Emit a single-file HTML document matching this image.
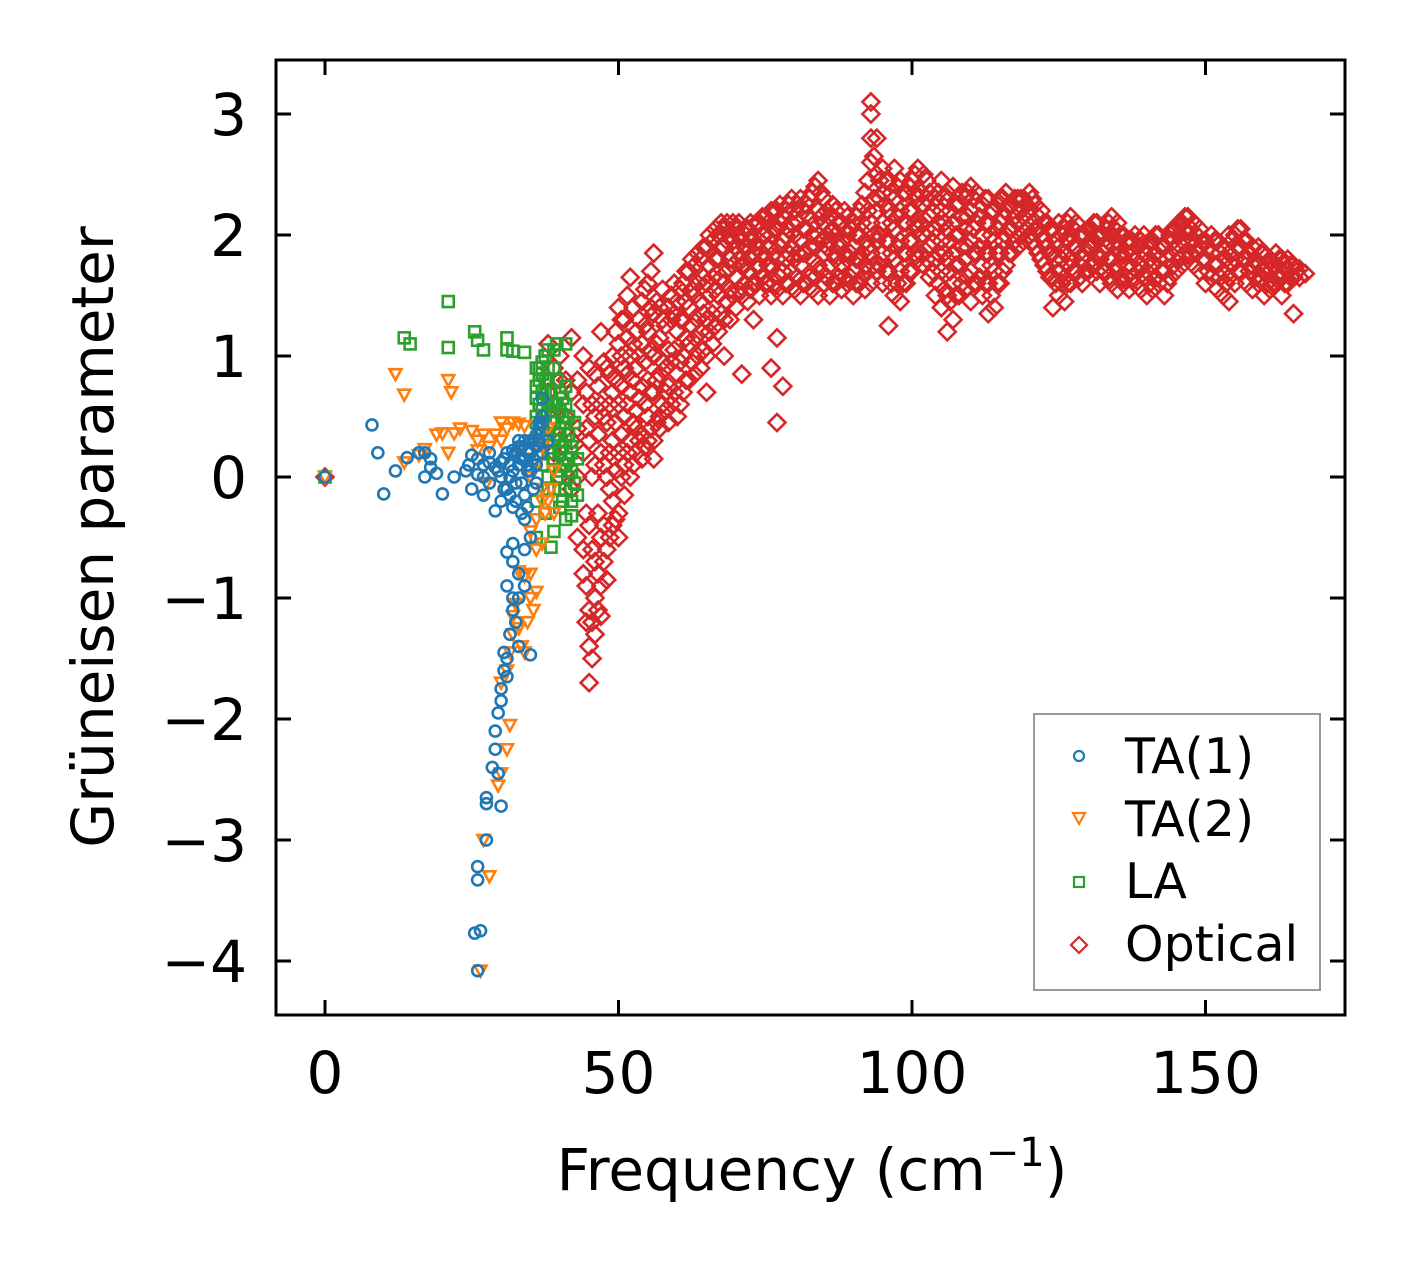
<!DOCTYPE html>
<html><head><meta charset="utf-8"><style>
html,body{margin:0;padding:0;background:#fff;}
svg{display:block;font-family:"DejaVu Sans","Liberation Sans",sans-serif;}
</style></head><body>
<svg id="chart" width="1406" height="1264" viewBox="0 0 1406 1264" xmlns="http://www.w3.org/2000/svg">
<rect x="0" y="0" width="1406" height="1264" fill="#fff"/>
<g id="marks"></g>
<g id="axes"></g>
<text x="812" y="1190" font-size="58" text-anchor="middle">Frequency (cm<tspan font-size="40" dy="-24">−1</tspan><tspan dy="24">)</tspan></text>
<text transform="translate(113,537) rotate(-90)" font-size="58" text-anchor="middle">Grüneisen parameter</text>
<g>
<rect x="1034" y="714" width="286" height="276" fill="#fff" stroke="#999" stroke-width="2"/>
<circle cx="1079" cy="756" r="5" fill="none" stroke="#1f77b4" stroke-width="2.2"/>
<path d="M1073,813 L1085,813 L1079,824 Z" fill="none" stroke="#ff7f0e" stroke-width="2.2"/>
<rect x="1074" y="877" width="10" height="10" fill="none" stroke="#2ca02c" stroke-width="2.2"/>
<path d="M1079,937 L1087,945 L1079,953 L1071,945 Z" fill="none" stroke="#d62728" stroke-width="2.2"/>
<text x="1125" y="773" font-size="49">TA(1)</text>
<text x="1125" y="836" font-size="49">TA(2)</text>
<text x="1125" y="898" font-size="49">LA</text>
<text x="1125" y="961" font-size="49">Optical</text>
</g>
</svg>
<script>
const xTicks = [0, 50, 100, 150];
const yTicks = [-4, -3, -2, -1, 0, 1, 2, 3];
const ta1Freq = [0,8,9,10,12,14,16,17,17,18,18,19,20,22,24,24.5,25,25,26,26,27,27,28,28,29,29,30,30,31,31,31,32,32,32,33,33,33,33,34,34,34,35,35,35,35,36,36,36,37,37,37,38,33,32,31,32,31.5,31,30.5,30,30,29.5,29,29,28.5,29.5,30,27.5,27.5,27.5,26,26,25.5,26.5,26,32.5,33,34,34,30.5,31,32,27,28,30,32,34,35,36,37,29.5,30.5,31.5,32.5,33.5,34.5,35.5,36.5,33.5,34.5,35.5,36.5,31.5,32.5,33.5,34.5,35.5,36.5,30.5,31.5,32.5,33.5,34.5];
const ta1Gamma = [0,0.43,0.2,-0.14,0.05,0.16,0.2,0.2,0,0.15,0.08,0.03,-0.14,0,0.05,0.1,0.18,-0.1,0.15,0.02,-0.15,0.1,0.12,-0.05,-0.28,0.08,0.12,-0.2,0.2,-0.1,-0.62,0.22,-0.55,-0.7,0.25,0.1,-0.8,-1.0,0.3,0.15,-0.35,0.3,0.2,-0.5,-1.47,0.35,0.25,-0.05,0.45,0.5,0.65,0.3,0.3,0.05,-0.9,-1.1,-1.3,-1.5,-1.6,-1.75,-1.85,-1.95,-2.1,-2.25,-2.4,-2.45,-2.72,-2.65,-2.7,-3.0,-3.22,-3.33,-3.77,-3.75,-4.08,-1.2,-1.4,-0.9,-0.6,-1.45,-1.65,-1.0,0.0,0.2,0.0,-0.25,-0.15,0.05,0.1,0.2,0.05,0.15,0.1,0.2,0.25,0.2,0.15,0.3,-0.05,0.05,-0.1,0.4,-0.15,-0.05,0.15,0.1,0.3,0.45,-0.1,0.0,-0.2,-0.3,-0.25];
const ta2Freq = [0,12,13.5,13.5,16,17,19,20,21,21.5,22,23,25,26,27,28,29,30,30,31,32,33,34,21,26,27,28,29.5,30,31,31.5,31,31.5,32,32.5,33,33.5,34,34.5,35,35.5,36,35,34,33,36,37,37.5,38,38.5,36,37,35,35,36,37,38,39,30,32,26.5,27.5,39,33,34,35,36,37];
const ta2Gamma = [0,0.85,0.68,0.12,0.18,0.23,0.35,0.36,0.8,0.7,0.36,0.4,0.38,0.3,0.35,0.25,0.35,0.3,0.45,0.4,0.45,0.44,0.42,0.2,0.22,-3.0,-3.3,-2.55,-2.45,-2.25,-2.05,-1.6,-1.45,-1.3,-1.05,-1.25,-1.4,-1.45,-1.2,-1.0,-1.1,-0.95,-0.8,-0.82,-0.78,-0.6,-0.55,-0.3,-0.2,-0.1,-0.35,-0.2,-0.45,0.0,0.1,0.25,0.4,0.05,-1.7,-1.15,-4.08,-0.05,-0.3,0.2,0.25,0.15,0.3,-0.1];
const laFreq = [0,13.5,14.5,21,21,25.5,26,27,31,31,32,34,39,39.5,41,37.5,36,36,36.5,37,37,38,38,38.5,39,39,39.5,40,40,40.5,40.5,41,41,41.5,42,42,42.5,43,43,41,42,39,38.5,36,37.5,38,38,39.5,40,37,36.5,40,41.5,39,38,36,37,40,41,36.5,37.5,38.5,39.5,40.5,41.5,42.5,36,37,38,39,40,41,42,37.5,38.5,39.5,40.5,36,37,38,39,40,41,42,36.5,37.5,38.5,39.5,40.5,41.5,36,37,38,39,40,41];
const laGamma = [0,1.15,1.1,1.45,1.07,1.2,1.13,1.05,1.15,1.05,1.04,1.03,1.05,1.1,1.1,1.0,0.9,0.75,0.6,0.85,0.95,0.8,0.6,0.45,0.3,0.15,0.0,0.2,0.4,0.5,0.1,0.3,-0.1,0.15,0.05,-0.2,0.45,0.15,-0.15,-0.35,-0.32,-0.45,-0.58,-0.5,-0.3,0.2,-0.1,0.6,0.7,0.3,0.4,-0.25,0.5,0.9,1.05,-0.2,0.7,0.05,0.75,0.8,0.7,0.55,0.35,0.25,0.0,-0.05,0.45,0.1,0.0,-0.1,-0.1,0.6,0.2,0.5,0.2,0.0,-0.2,0.65,0.55,0.35,0.45,0.3,0.1,0.25,0.9,0.8,0.7,0.8,0.65,0.35,0.5,0.4,0.9,0.6,0.55,0.45];
const opticalRows = [
[0,[0]],[38,[0.4,0.7,1.1]],[39,[0.2,0.6,0.9]],[40,[0.0,0.3,0.8,1.0]],[41,[0.1,0.5,0.8]],[42,[-0.1,0.3,0.7,1.15]],[43,[0.0,0.4,0.8,-0.5]],
[44,[-0.6,-0.8,0.2,0.6,1.0]],[45,[-1.1,-1.4,-1.7,-0.4,0.3,0.9]],[46,[-1.3,-1.0,-0.7,0.1,0.5,0.85]],[47,[-1.15,-0.9,-0.5,0.2,0.6,1.2]],
[48,[-0.6,-0.85,0.0,0.45,0.9]],[49,[-0.4,-0.2,0.3,0.7,1.0]],[50,[-0.5,-0.3,0.2,0.6,1.1,1.4]],[51,[0.1,0.5,0.9,1.3,-0.15]],
[52,[0.3,0.7,1.0,1.65,0.0]],[53,[0.2,0.55,0.9,1.2,0.4]],[54,[0.35,0.75,1.1,1.45,0.15]],[55,[0.5,0.8,1.2,1.6,0.3]],
[56,[0.3,0.7,1.0,1.35,1.85,0.15]],[57,[0.5,0.85,1.15,1.4,0.4]],[58,[0.55,0.9,1.25,0.7]],[59,[0.6,0.95,1.3,1.5]],
[60,[0.5,0.85,1.2,1.45]],[61,[0.7,1.0,1.3,1.6]],[62,[0.8,1.1,1.4,1.7]],[63,[0.85,1.15,1.5,1.75]],[64,[0.9,1.2,1.45,1.8]],
[65,[0.7,1.0,1.3,1.6,1.9]],[66,[1.1,1.35,1.65,1.95]],[67,[1.2,1.5,1.8,2.0]],[68,[1.0,1.3,1.6,1.9,2.05]],[69,[1.3,1.55,1.8,2.0]],
[70,[1.4,1.65,1.9,2.05]],[71,[0.85,1.5,1.75,1.95]],[72,[1.45,1.7,1.9,2.05]],[73,[1.3,1.6,1.85,2.0]],[74,[1.5,1.75,1.95,2.1]],
[75,[1.6,1.8,2.0,2.15]],[76,[1.5,1.75,2.0,2.2,0.9]],[77,[1.15,1.55,1.8,2.05,2.2,0.45]],[78,[1.5,1.7,1.95,2.15,0.75]],
[79,[1.6,1.85,2.05,2.25]],[80,[1.55,1.8,2.0,2.2]],[81,[1.5,1.75,1.95,2.3]],[82,[1.6,1.85,2.05,2.25]],[83,[1.55,1.8,2.0,2.35]],
[84,[1.5,1.75,2.0,2.2,2.45]],[85,[1.6,1.85,2.1,2.3]],[86,[1.5,1.75,1.95,2.15]],[87,[1.6,1.8,2.0,2.2]],[88,[1.55,1.75,1.95,2.1]],
[89,[1.6,1.8,2.0,2.15]],[90,[1.5,1.7,1.9,2.1]],[91,[1.6,1.8,2.0,2.2]],[92,[1.55,1.75,1.95,2.35]],[93,[1.6,1.85,2.1,2.6,2.8,3.1,3.0]],
[94,[1.7,1.95,2.2,2.5,2.8]],[95,[1.6,1.85,2.1,2.35,2.55]],[96,[1.25,1.7,1.95,2.2,2.45]],[97,[1.5,1.8,2.05,2.3,2.55]],
[98,[1.45,1.7,1.95,2.2,2.45]],[99,[1.6,1.85,2.1,2.35]],[100,[1.7,1.95,2.2,2.45]],[101,[1.8,2.05,2.3,2.55]],[102,[1.75,2.0,2.25,2.5]],
[103,[1.65,1.9,2.15,2.35]],[104,[1.5,1.8,2.05,2.3]],[105,[1.4,1.7,1.95,2.2,2.45]],[106,[1.2,1.5,1.8,2.05,2.35]],
[107,[1.3,1.6,1.85,2.1,2.4]],[108,[1.5,1.75,2.0,2.25]],[109,[1.55,1.8,2.05,2.3]],[110,[1.45,1.7,1.95,2.2,2.4]],
[111,[1.6,1.85,2.1,2.35]],[112,[1.5,1.75,2.0,2.25]],[113,[1.35,1.6,1.85,2.1,2.3]],[114,[1.4,1.7,1.95,2.2]],[115,[1.6,1.85,2.1,2.3]],
[116,[1.75,2.0,2.2,2.35]],[117,[1.85,2.05,2.25]],[118,[1.9,2.1,2.3]],[119,[1.95,2.15,2.3]],[120,[2.0,2.2,2.35]],[121,[1.9,2.05,2.25]],
[122,[1.8,2.0,2.2]],[123,[1.7,1.9,2.1]],[124,[1.4,1.65,1.85,2.05]],[125,[1.5,1.7,1.9,2.1]],[126,[1.45,1.65,1.85,2.05]],
[127,[1.6,1.8,2.0,2.15]],[128,[1.7,1.9,2.1]],[129,[1.6,1.8,2.0]],[130,[1.7,1.9,2.05]],[131,[1.75,1.95,2.1]],[132,[1.6,1.8,2.0]],
[133,[1.7,1.9,2.05]],[134,[1.6,1.8,2.0,2.15]],[135,[1.55,1.75,1.95,2.1]],[136,[1.6,1.8,2.0]],[137,[1.55,1.75,1.95]],[138,[1.6,1.8,2.0]],
[139,[1.55,1.75,1.95]],[140,[1.5,1.7,1.9]],[141,[1.55,1.75,1.95]],[142,[1.6,1.8,2.0]],[143,[1.5,1.7,1.9]],[144,[1.65,1.85,2.0]],
[145,[1.7,1.9,2.05]],[146,[1.75,1.95,2.1]],[147,[1.8,2.0,2.15]],[148,[1.75,1.95,2.1]],[149,[1.7,1.9,2.05]],[150,[1.6,1.8,1.95]],
[151,[1.65,1.85,2.0]],[152,[1.55,1.75,1.95]],[153,[1.5,1.7,1.9]],[154,[1.45,1.65,1.85,2.0]],[155,[1.6,1.8,2.0]],[156,[1.7,1.9,2.05]],
[157,[1.6,1.8,1.95]],[158,[1.55,1.75,1.9]],[159,[1.6,1.75,1.9]],[160,[1.5,1.7,1.85]],[161,[1.55,1.7,1.8]],[162,[1.6,1.75,1.85]],
[163,[1.5,1.65,1.8]],[164,[1.6,1.7,1.8]],[165,[1.35,1.65,1.75]],[166,[1.65,1.72]],[167,[1.68]]
];
const opticalDenseRows = [
[44.5,[-1.2,-0.9,-0.3,0.4,0.7]],[45.5,[-1.5,-1.2,-0.6,0.0,0.6]],[46.5,[-1.1,-0.8,-0.3,0.35,0.75]],[47.5,[-0.7,-0.4,0.1,0.5,0.95]],
[48.5,[-0.5,-0.1,0.2,0.6,0.85]],[49.5,[-0.35,0.05,0.45,0.8,1.2]],[50.5,[0.0,0.35,0.75,1.0,1.3]],[51.5,[0.2,0.6,0.85,1.15,1.5]],
[52.5,[0.1,0.45,0.8,1.1,1.4]],[53.5,[0.3,0.65,1.0,1.3]],[54.5,[0.25,0.6,0.95,1.25,1.55]],[55.5,[0.4,0.7,1.05,1.4,1.7]],
[56.5,[0.45,0.8,1.1,1.45]],[57.5,[0.6,0.95,1.3,1.55]],[58.5,[0.45,0.75,1.05,1.4]],[59.5,[0.7,1.05,1.35,1.6]],
[60.5,[0.6,0.95,1.3,1.55]],[61.5,[0.8,1.15,1.45,1.7]],[62.5,[0.95,1.25,1.55,1.8]],[63.5,[1.0,1.3,1.6,1.85]],
[64.5,[1.05,1.35,1.65,1.9]],[65.5,[1.2,1.5,1.75,2.0]],[66.5,[1.25,1.55,1.8,2.05]],[67.5,[1.35,1.65,1.9,2.1]],
[68.5,[1.45,1.7,1.95,2.1]],[69.5,[1.5,1.75,1.95,2.1]],[70.5,[1.55,1.8,2.0,2.1]],[71.5,[1.6,1.75,1.9,2.05]],
[72.5,[1.55,1.8,1.95,2.1]],[73.5,[1.6,1.75,1.9,2.1]],[74.5,[1.65,1.85,2.0,2.15]],[75.5,[1.6,1.75,1.9,2.1]],
[76.5,[1.6,1.85,2.05,2.2]],[77.5,[1.65,1.9,2.1,2.25]],[78.5,[1.6,1.8,2.0,2.2]],[79.5,[1.7,1.9,2.1,2.3]],
[80.5,[1.65,1.85,2.1,2.25]],[81.5,[1.6,1.85,2.05,2.2]],[82.5,[1.65,1.9,2.15,2.3]],[83.5,[1.65,1.9,2.1,2.4]],
[84.5,[1.7,1.95,2.15,2.35]],[85.5,[1.65,1.9,2.0,2.2]],[86.5,[1.6,1.85,2.05,2.25]],[87.5,[1.65,1.9,2.1]],
[88.5,[1.65,1.85,2.05,2.2]],[89.5,[1.65,1.85,2.05]],[90.5,[1.6,1.8,2.0,2.15]],[91.5,[1.65,1.85,2.1,2.25]],
[92.5,[1.7,1.9,2.2,2.45]],[93.5,[1.75,2.0,2.3,2.65]],[94.5,[1.75,2.0,2.3,2.45]],[95.5,[1.7,1.95,2.25,2.45]],
[96.5,[1.6,1.85,2.1,2.35]],[97.5,[1.6,1.9,2.15,2.4]],[98.5,[1.6,1.85,2.1,2.35]],[99.5,[1.7,1.95,2.2,2.4]],
[100.5,[1.85,2.1,2.35,2.5]],[101.5,[1.85,2.1,2.35]],[102.5,[1.8,2.05,2.3,2.45]],[103.5,[1.7,1.95,2.2]],
[104.5,[1.6,1.85,2.1,2.35]],[105.5,[1.55,1.85,2.1,2.3]],[106.5,[1.45,1.7,1.95,2.2]],[107.5,[1.5,1.75,2.0,2.25]],
[108.5,[1.6,1.9,2.15,2.35]],[109.5,[1.65,1.9,2.15,2.35]],[110.5,[1.6,1.85,2.05,2.3]],[111.5,[1.65,1.9,2.15]],
[112.5,[1.6,1.85,2.1,2.3]],[113.5,[1.5,1.75,2.0,2.2]],[114.5,[1.6,1.85,2.05,2.25]],[115.5,[1.7,1.95,2.15,2.3]],
[116.5,[1.85,2.05,2.25]],[117.5,[1.95,2.15,2.3]],[118.5,[2.0,2.2,2.3]],[119.5,[2.05,2.25]],[120.5,[1.95,2.1,2.3]],
[121.5,[1.85,2.05,2.15]],[122.5,[1.75,1.95,2.1]],[123.5,[1.65,1.85,2.05]],[124.5,[1.6,1.8,1.95]],[125.5,[1.6,1.8,2.0]],
[126.5,[1.6,1.75,1.95,2.1]],[127.5,[1.7,1.9,2.05]],[128.5,[1.65,1.85,2.0]],[129.5,[1.7,1.85,2.0]],[130.5,[1.75,1.9,2.05]],
[131.5,[1.7,1.85,2.0,2.1]],[132.5,[1.7,1.85,2.0]],[133.5,[1.65,1.8,1.95,2.1]],[134.5,[1.7,1.9,2.05]],[135.5,[1.65,1.85,2.0]],
[136.5,[1.65,1.85,1.95]],[137.5,[1.65,1.85,1.95]],[138.5,[1.7,1.9]],[139.5,[1.65,1.85,2.0]],[140.5,[1.6,1.8,1.95]],
[141.5,[1.65,1.85,2.0]],[142.5,[1.7,1.9]],[143.5,[1.6,1.8,1.95]],[144.5,[1.75,1.95,2.05]],[145.5,[1.8,2.0,2.1]],
[146.5,[1.85,2.05,2.15]],[147.5,[1.85,2.05]],[148.5,[1.85,2.0]],[149.5,[1.8,1.95]],[150.5,[1.7,1.9]],[151.5,[1.75,1.95]],
[152.5,[1.65,1.85]],[153.5,[1.6,1.8]],[154.5,[1.75,1.95]],[155.5,[1.7,1.9,2.05]],[156.5,[1.8,1.95]],[157.5,[1.7,1.85]],
[158.5,[1.65,1.8]],[159.5,[1.65,1.85]],[160.5,[1.6,1.75]],[161.5,[1.6,1.75]],[162.5,[1.65,1.8]],[163.5,[1.6,1.75]],
[164.5,[1.65,1.75]],[165.5,[1.7]]
];

const NS = "http://www.w3.org/2000/svg";
const PL = 276, PR = 1345, PT = 60, PB = 1015;
function xs(v){ return 325 + (v - 0) * (912 - 325) / 100; }
function ys(v){ return 477 - v * (477 - 114) / 3; }
const marks = document.getElementById('marks');
const axes = document.getElementById('axes');
function mk(tag, attrs, parent){ const e = document.createElementNS(NS, tag); for (const k in attrs) e.setAttribute(k, attrs[k]); parent.appendChild(e); return e; }

function drawOptical(rows){
  rows.forEach(row => {
    row[1].forEach(g => {
      const x = xs(row[0]), y = ys(g), s = 8.5;
      const p = mk('path', {d:`M${x},${y-s} L${x+s},${y} L${x},${y+s} L${x-s},${y} Z`, fill:'none', stroke:'#d62728', 'stroke-width':2.6}, marks);
      
      
    });
  });
}
drawOptical(opticalRows);
drawOptical(opticalDenseRows);
laFreq.forEach((f, i) => {
  const x = xs(f), y = ys(laGamma[i]);
  const r = mk('rect', {x:x-5.5, y:y-5.5, width:11, height:11, fill:'none', stroke:'#2ca02c', 'stroke-width':2.6}, marks);
  
  
});
ta2Freq.forEach((f, i) => {
  const x = xs(f), y = ys(ta2Gamma[i]);
  const p = mk('path', {d:`M${x-6},${y-5} L${x+6},${y-5} L${x},${y+6} Z`, fill:'none', stroke:'#ff7f0e', 'stroke-width':2.6}, marks);
  
  
});
ta1Freq.forEach((f, i) => {
  const c = mk('circle', {cx:xs(f), cy:ys(ta1Gamma[i]), r:5.5, fill:'none', stroke:'#1f77b4', 'stroke-width':2.6}, marks);
  
  
});

const frame = mk('rect', {x:PL, y:PT, width:PR-PL, height:PB-PT, fill:'none', stroke:'#000', 'stroke-width':3}, axes);


xTicks.forEach(t => {
  const x = xs(t);
  const a = mk('line', {x1:x, y1:PB, x2:x, y2:PB-15, stroke:'#000', 'stroke-width':3}, axes);
  
  
  const b = mk('line', {x1:x, y1:PT, x2:x, y2:PT+15, stroke:'#000', 'stroke-width':3}, axes);
  
  
  const l = mk('text', {x:x, y:1093, 'font-size':58, 'text-anchor':'middle'}, axes);
  l.textContent = String(t);
  
  
});
yTicks.forEach(t => {
  const y = ys(t);
  const a = mk('line', {x1:PL, y1:y, x2:PL+15, y2:y, stroke:'#000', 'stroke-width':3}, axes);
  
  
  const b = mk('line', {x1:PR, y1:y, x2:PR-15, y2:y, stroke:'#000', 'stroke-width':3}, axes);
  
  
  const l = mk('text', {x:247, y:y+21, 'font-size':58, 'text-anchor':'end'}, axes);
  l.textContent = t < 0 ? '−' + Math.abs(t) : String(t);
  
  
});
</script>
</body></html>
